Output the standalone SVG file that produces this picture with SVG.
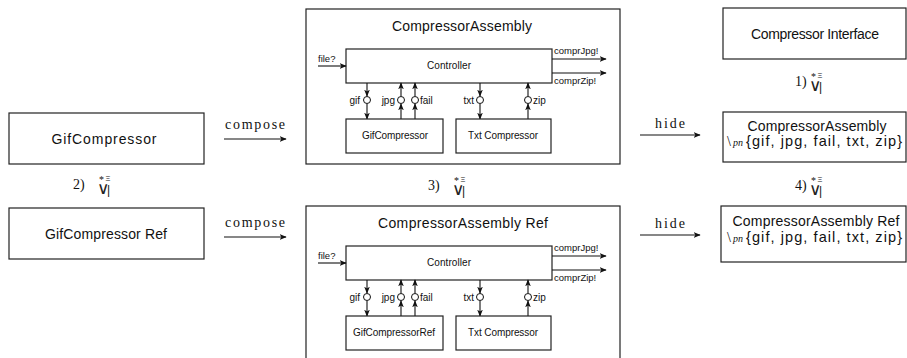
<svg xmlns="http://www.w3.org/2000/svg" xmlns:xlink="http://www.w3.org/1999/xlink" width="907" height="358" viewBox="0 0 907 358">
<style>
.box{fill:#fff;stroke:#222;stroke-width:1.2}
.sans{font-family:"Liberation Sans","DejaVu Sans",sans-serif;fill:#111}
.serif{font-family:"Liberation Serif","DejaVu Serif",serif;fill:#111}
.t14{font-size:14px}
.t10{font-size:10px}
.t9{font-size:9.5px}
.c{text-anchor:middle}
.e{text-anchor:end}
.ln{stroke:#111;stroke-width:1.1;fill:none}
.port{fill:#fff;stroke:#111;stroke-width:1}
</style>
<defs>
<marker id="ah" viewBox="0 0 10 10" refX="9" refY="5" markerWidth="7" markerHeight="7" markerUnits="userSpaceOnUse" orient="auto">
<path d="M0,1 L10,5 L0,9 L2.5,5 Z" fill="#111"/>
</marker>
<g id="refsym">
<text class="serif" x="0" y="8" font-size="10">*</text>
<text class="sans" x="6.5" y="6" font-size="7.5">Ξ</text>
<text x="-2" y="18.5" font-size="17" font-family="'DejaVu Sans',sans-serif" fill="#222">∨</text>
<text class="sans" x="8" y="18.5" font-size="12">|</text>
</g>
<g id="asmInner">
<rect class="box" x="346" y="49" width="206" height="34"/>
<text class="sans t10 c" x="449" y="69" textLength="44" lengthAdjust="spacing">Controller</text>
<line class="ln" x1="318" y1="66" x2="346" y2="66" marker-end="url(#ah)"/>
<text class="sans t9" x="318" y="62">file?</text>
<line class="ln" x1="552" y1="59" x2="606" y2="59" marker-end="url(#ah)"/>
<line class="ln" x1="552" y1="73" x2="606" y2="73" marker-end="url(#ah)"/>
<text class="sans t9" x="554" y="54">comprJpg!</text>
<text class="sans t9" x="554" y="84">comprZip!</text>
<line class="ln" x1="367" y1="83" x2="367" y2="96" marker-end="url(#ah)"/>
<line class="ln" x1="367" y1="104" x2="367" y2="119" marker-end="url(#ah)"/>
<line class="ln" x1="401" y1="119" x2="401" y2="104" marker-end="url(#ah)"/>
<line class="ln" x1="401" y1="96" x2="401" y2="83" marker-end="url(#ah)"/>
<line class="ln" x1="415" y1="119" x2="415" y2="104" marker-end="url(#ah)"/>
<line class="ln" x1="415" y1="96" x2="415" y2="83" marker-end="url(#ah)"/>
<line class="ln" x1="480" y1="83" x2="480" y2="96" marker-end="url(#ah)"/>
<line class="ln" x1="480" y1="104" x2="480" y2="119" marker-end="url(#ah)"/>
<line class="ln" x1="528" y1="119" x2="528" y2="104" marker-end="url(#ah)"/>
<line class="ln" x1="528" y1="96" x2="528" y2="83" marker-end="url(#ah)"/>
<circle class="port" cx="367" cy="100" r="3.5"/>
<circle class="port" cx="401" cy="100" r="3.5"/>
<circle class="port" cx="415" cy="100" r="3.5"/>
<circle class="port" cx="480" cy="100" r="3.5"/>
<circle class="port" cx="528" cy="100" r="3.5"/>
<text class="sans t10 e" x="360" y="103.5">gif</text>
<text class="sans t10 e" x="395" y="103.5">jpg</text>
<text class="sans t10" x="420" y="103.5">fail</text>
<text class="sans t10 e" x="474" y="103.5">txt</text>
<text class="sans t10" x="533" y="103.5">zip</text>
<rect class="box" x="456" y="119" width="95" height="34"/>
<text class="sans t10 c" x="503" y="139" textLength="70" lengthAdjust="spacing">Txt Compressor</text>
<rect class="box" x="346" y="119" width="97" height="34"/>
</g>
</defs>

<g id="GifCompressor">
<rect class="box" x="9" y="113" width="195" height="51"/>
<text class="sans t14 c" x="104" y="144" textLength="105" lengthAdjust="spacing">GifCompressor</text>
</g>
<g id="GifCompressorRef">
<rect class="box" x="9" y="208" width="195" height="51"/>
<text class="sans t14 c" x="106" y="239" textLength="122" lengthAdjust="spacing">GifCompressor Ref</text>
</g>

<g id="CompressorAssembly">
<rect class="box" x="306" y="9" width="314" height="155"/>
<text class="sans t14 c" x="462" y="31" textLength="140" lengthAdjust="spacing">CompressorAssembly</text>
<use xlink:href="#asmInner"/>
<text class="sans t10 c" x="395" y="139" textLength="66" lengthAdjust="spacing">GifCompressor</text>
</g>

<g id="CompressorAssemblyRef">
<rect class="box" x="306" y="206" width="314" height="160"/>
<text class="sans t14 c" x="463" y="228" textLength="170" lengthAdjust="spacing">CompressorAssembly Ref</text>
<use xlink:href="#asmInner" transform="translate(0,197)"/>
<text class="sans t10 c" x="394" y="336" textLength="82" lengthAdjust="spacing">GifCompressorRef</text>
</g>

<g id="CompressorInterface">
<rect class="box" x="723" y="8" width="183" height="51"/>
<text class="sans t14 c" x="815" y="39" textLength="128" lengthAdjust="spacing">Compressor Interface</text>
</g>

<g id="HiddenAssembly">
<rect class="box" x="723" y="112" width="183" height="50"/>
<text class="sans t14 c" x="817" y="131" textLength="139" lengthAdjust="spacing">CompressorAssembly</text>
<text class="serif" x="727" y="146" font-size="14">\</text>
<text class="serif" x="733" y="146" font-size="10" font-style="italic">pn</text>
<text class="sans" x="746" y="146" font-size="14.5" textLength="156" lengthAdjust="spacing">{gif, jpg, fail, txt, zip}</text>
</g>

<g id="HiddenAssemblyRef">
<rect class="box" x="721" y="206" width="185" height="56"/>
<text class="sans t14 c" x="816" y="226" textLength="167" lengthAdjust="spacing">CompressorAssembly Ref</text>
<text class="serif" x="727" y="242" font-size="14">\</text>
<text class="serif" x="733" y="242" font-size="10" font-style="italic">pn</text>
<text class="sans" x="746" y="242" font-size="14.5" textLength="156" lengthAdjust="spacing">{gif, jpg, fail, txt, zip}</text>
</g>

<g id="connectors">
<line class="ln" x1="224" y1="139" x2="286" y2="139" marker-end="url(#ah)"/>
<text class="serif t14 c" x="255" y="129" textLength="60" lengthAdjust="spacing">compose</text>
<line class="ln" x1="224" y1="237" x2="286" y2="237" marker-end="url(#ah)"/>
<text class="serif t14 c" x="255" y="227" textLength="60" lengthAdjust="spacing">compose</text>
<line class="ln" x1="640" y1="135" x2="700" y2="135" marker-end="url(#ah)"/>
<text class="serif t14 c" x="670" y="128" textLength="30" lengthAdjust="spacing">hide</text>
<line class="ln" x1="640" y1="235" x2="700" y2="235" marker-end="url(#ah)"/>
<text class="serif t14 c" x="670" y="228" textLength="30" lengthAdjust="spacing">hide</text>
</g>

<g id="refinements">
<text class="serif t14" x="73" y="189">2)</text>
<use xlink:href="#refsym" x="99" y="175"/>
<text class="serif t14" x="428" y="190">3)</text>
<use xlink:href="#refsym" x="454" y="176"/>
<text class="serif t14" x="795" y="86">1)</text>
<use xlink:href="#refsym" x="811" y="72"/>
<text class="serif t14" x="795" y="190">4)</text>
<use xlink:href="#refsym" x="811" y="176"/>
</g>
</svg>
